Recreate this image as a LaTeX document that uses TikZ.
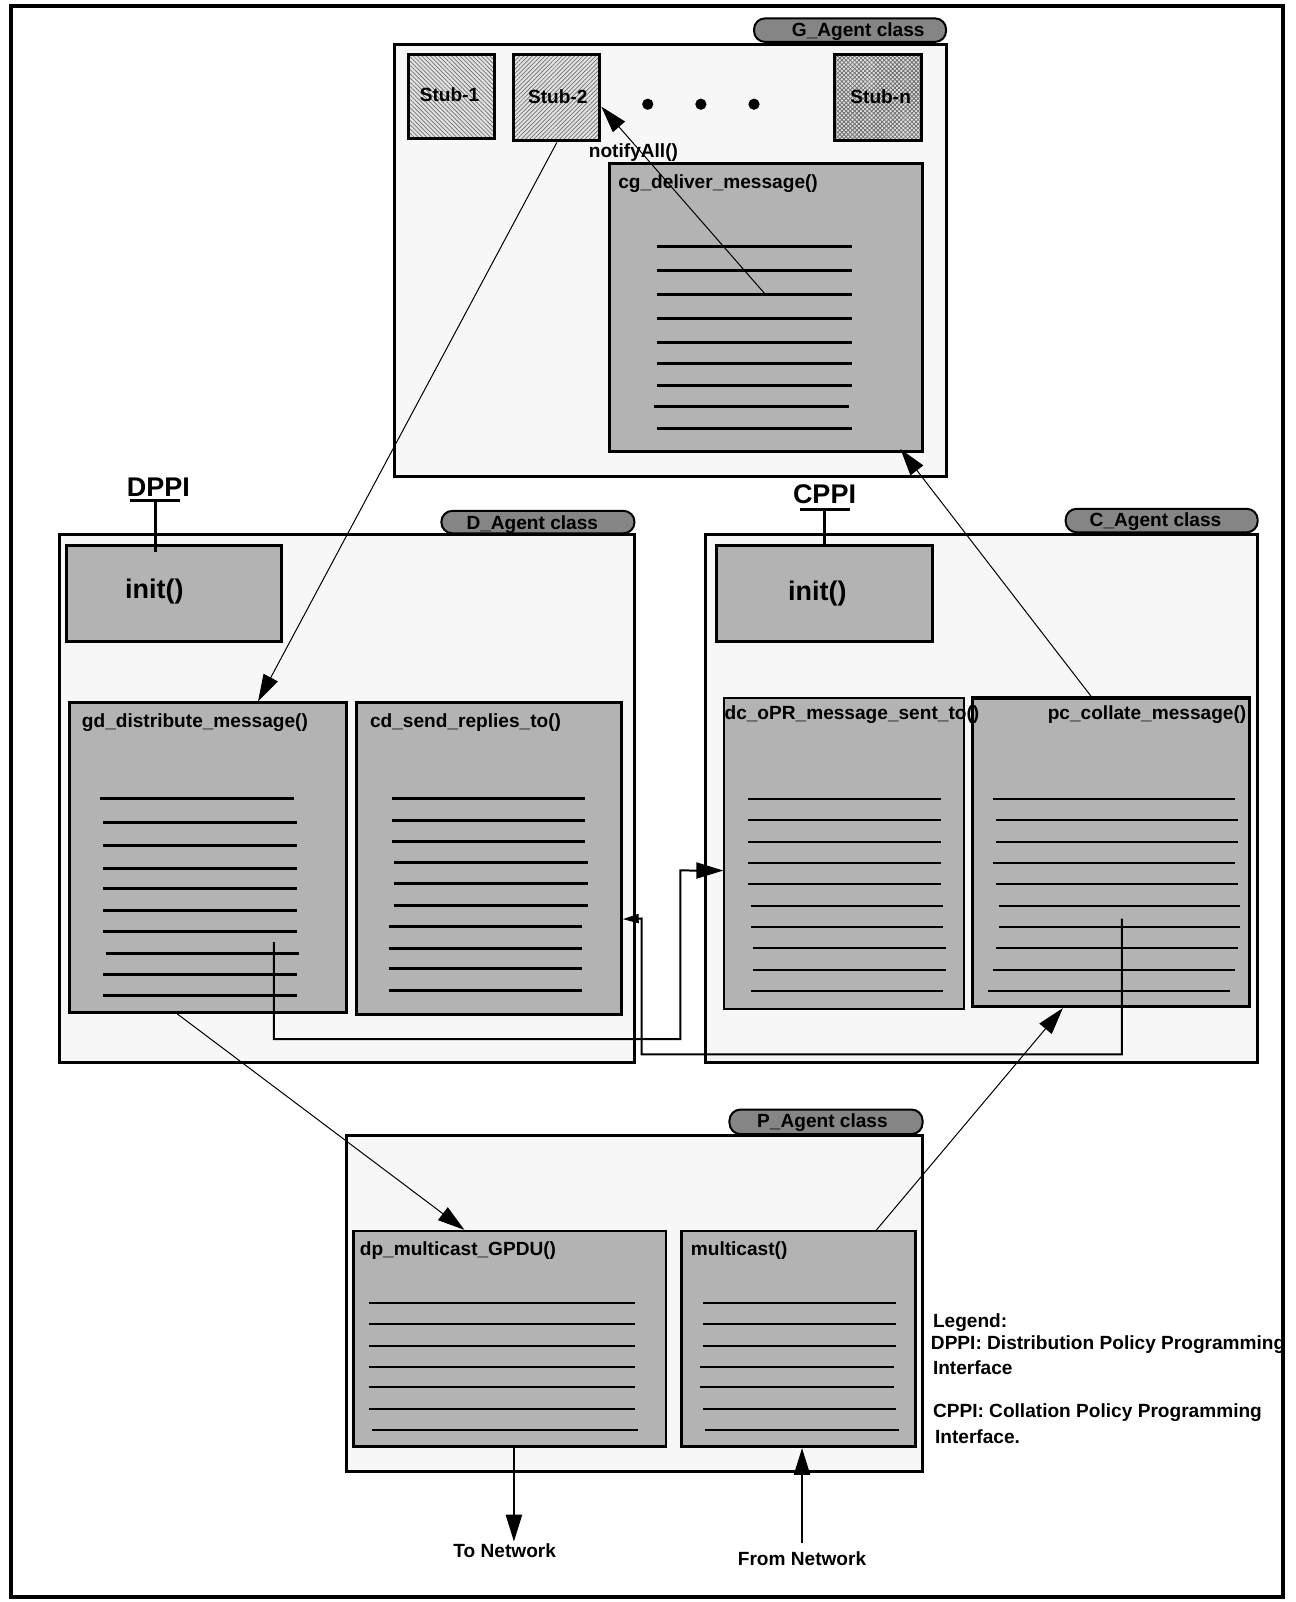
\documentclass[tikz,border=0pt]{standalone}
\usepackage{fontspec}
\setmainfont{Liberation Sans}
\usetikzlibrary{arrows.meta,patterns.meta,fit,calc}
\definecolor{classfill}{HTML}{F7F7F7}
\definecolor{methfill}{HTML}{B3B3B3}
\definecolor{tabfill}{HTML}{858585}
\definecolor{stubfill}{HTML}{E2E2E2}
\definecolor{hatchcol}{HTML}{6E6E6E}
\begin{document}
\begin{tikzpicture}[x=1.022pt, y=-1.022pt,
  lbl/.style={font=\bfseries\fontsize{19.1}{21}\selectfont, inner sep=0pt, text=black},
  bigl/.style={font=\bfseries\fontsize{27}{30}\selectfont, inner sep=0pt, text=black},
  classbox/.style={draw, line width=3pt, fill=classfill, inner sep=0pt},
  methbox/.style={draw, line width=3pt, fill=methfill, inner sep=0pt},
  thinmeth/.style={methbox, line width=2pt},
  tabbox/.style={draw, line width=2pt, fill=tabfill, rounded corners=11pt, inner sep=0pt},
  stubbox/.style={draw, line width=3pt, inner sep=0pt},
  codeline/.style={line width=3pt},
  thinline/.style={line width=2pt},
  conn/.style={line width=1pt, -{Triangle[length=27pt,width=16pt]}},
  route/.style={line width=2pt},
  routehead/.style={route, -{Triangle[length=27pt,width=16pt]}},
  smallhead/.style={route, -{Triangle[length=16pt,width=9pt]}},
  nethead/.style={line width=2.5pt, -{Triangle[length=27pt,width=16pt]}},
  stem/.style={line width=3pt}
]
% canvas
\fill[white] (0,0) rectangle (1268,1568);
\useasboundingbox (0,0) rectangle (1268,1568);

% ---------------- class tabs ----------------
\node[tabbox, fit={(738,18)(926,41)}] (gtab) {};
\node[tabbox, fit={(432,500)(621,522)}] (dtab) {};
\node[tabbox, fit={(1043,498)(1231,521)}] (ctab) {};
\node[tabbox, fit={(714,1086)(903,1110)}] (ptab) {};
\node[lbl] at (840,31) {G\_Agent class};
\node[lbl] at (521,513) {D\_Agent class};
\node[lbl] at (1131,511) {C\_Agent class};
\node[lbl] at (805,1099) {P\_Agent class};

% ---------------- class bodies ----------------
\node[classbox, fit={(386,44)(926,466)}] (G) {};
\node[classbox, fit={(58,523)(621,1040)}] (D) {};
\node[classbox, fit={(691,523)(1231,1040)}] (C) {};
\node[classbox, fit={(339,1111)(903,1440)}] (P) {};

% ---------------- G_Agent ----------------
\node[stubbox, fill=stubfill, fit={(400,53)(484,136)}] (stub1) {};
\fill[pattern={Lines[angle=-45,distance=3pt,line width=0.7pt]}, pattern color=hatchcol] (400,53) rectangle (484,136);
\node[stubbox, fit={(400,53)(484,136)}] {};
\node[stubbox, fill=stubfill, fit={(503,53)(587,138)}] (stub2) {};
\fill[pattern={Lines[angle=45,distance=3pt,line width=0.7pt]}, pattern color=hatchcol] (503,53) rectangle (587,138);
\node[stubbox, fit={(503,53)(587,138)}] {};
\node[stubbox, fill=stubfill, fit={(817,53)(902,138)}] (stubn) {};
\fill[pattern={Hatch[angle=45,distance=3pt,line width=0.8pt]}, pattern color=hatchcol] (817,53) rectangle (902,138);
\node[stubbox, fit={(817,53)(902,138)}] {};
\node[lbl] at (440,93) {Stub-1};
\node[lbl] at (546,95) {Stub-2};
\node[lbl] at (862,95) {Stub-n};
\foreach \x in {634,686,738} \fill (\x,102) circle (5.5);

\node[methbox, fit={(597,160)(903,442)}] (cg) {};
\foreach \a/\b/\y in {643/834/241.4, 643/834/264.5, 643/834/288, 643/834/311.4,
    643/834/335, 643/834/356.2, 643/834/377, 640/831/398, 643/834/419}
  \draw[codeline] (\a,\y) -- (\b,\y);
\node[lbl, anchor=west] at (605,180) {cg\_deliver\_message()};

% ---------------- D_Agent ----------------
\node[methbox, fit={(65,534)(276,628)}] (dinit) {};
\node[bigl] at (151,579) {init()};
\node[bigl] (dppi) at (155,477) {DPPI};
\coordinate (dstemtop) at (152,490);
\coordinate (dstembot) at (152,540);
\draw[stem] (127,490) -- (176,490);
\draw[stem] (dstemtop) -- (dstembot);

\node[methbox, fit={(68,688)(339,991)}] (gd) {};
\foreach \a/\b/\y in {97.5/288/781.5, 100.7/290.3/805, 100.7/290.3/828, 100.7/290.3/850,
    100.7/290.3/870, 100.7/290.3/891, 100.7/290.3/912, 103.6/293/933,
    100.7/290.3/953.5, 100.7/290.3/974.6}
  \draw[codeline] (\a,\y) -- (\b,\y);
\node[lbl, anchor=west] at (80,707) {gd\_distribute\_message()};

\node[methbox, fit={(349,688)(608,993)}] (cd) {};
\foreach \a/\b/\y in {383.5/572.7/781.5, 383.5/572.7/802.6, 383.5/572.7/823.5,
    385.6/576/844, 385.6/576/865, 385.6/576/886,
    380.6/570/906.5, 380.6/570/928, 380.6/570/948, 380.6/570/969}
  \draw[codeline] (\a,\y) -- (\b,\y);
\node[lbl, anchor=west] at (362,707) {cd\_send\_replies\_to()};

% ---------------- C_Agent ----------------
\node[methbox, fit={(701,534)(913,628)}] (cinit) {};
\node[bigl] at (800,581) {init()};
\node[bigl] (cppi) at (807,484) {CPPI};
\coordinate (cstemtop) at (807,499);
\draw[stem] (783,499) -- (832,499);
\draw[stem] (cstemtop) -- (cstemtop |- cinit.north);

\node[thinmeth, fit={(709,683)(944,988)}] (dc) {};
\foreach \a/\b/\y in {731.8/921.5/782, 731.8/921.5/802.5, 731.8/921.5/824,
    731.8/921.5/844.6, 731.8/921.5/865, 734.6/923/886.6, 734.6/923/907,
    736.8/926/927.6, 736.8/926/949, 734.6/923/970}
  \draw[thinline] (\a,\y) -- (\b,\y);

\node[methbox, line width=3.5pt, fit={(952,683)(1223,985)}] (pc) {};
\foreach \a/\b/\y in {971.6/1208.6/782, 974.5/1211.5/802.5, 974.5/1211.5/824,
    971.6/1208.6/844.6, 974.5/1211.5/865, 977.3/1213.3/886.6, 977.3/1213.3/907,
    974.5/1211.5/927.6, 971.6/1208.6/949, 966.6/1203.7/970}
  \draw[thinline] (\a,\y) -- (\b,\y);
\node[lbl, anchor=west] at (709,699) {dc\_oPR\_message\_sent\_to()};
\node[lbl, anchor=east] at (1220,699) {pc\_collate\_message()};

% ---------------- P_Agent ----------------
\node[methbox, line width=2.5pt, fit={(346,1205)(652,1416)}] (dp) {};
\foreach \a/\b/\y in {360.9/621.7/1275, 360.9/621.7/1296, 360.9/621.7/1317,
    360.9/621.7/1337.5, 360.9/621.7/1358, 360.9/621.7/1379, 364.5/624.6/1400}
  \draw[thinline] (\a,\y) -- (\b,\y);
\node[lbl, anchor=west] at (352,1224) {dp\_multicast\_GPDU()};

\node[methbox, line width=2.5pt, fit={(667,1205)(896,1416)}] (mc) {};
\foreach \a/\b/\y in {688/877/1275, 688/877/1296, 688/877/1317,
    685.1/875.3/1337.5, 685.1/875.3/1358, 688/877/1379, 690.2/880/1400}
  \draw[thinline] (\a,\y) -- (\b,\y);
\node[lbl, anchor=west] at (676,1224) {multicast()};

% ---------------- connectors ----------------
\coordinate (cgpt) at (749,288);
\coordinate (gdpt) at (268,922);
\coordinate (pcpt) at (1098,899);

\draw[conn] (stub2.south) -- ($(gd.north west)!0.679!(gd.north east)$);
\draw[conn] (cgpt) -- ($(stub2.north east)!0.6!(stub2.south east)$);
\node[lbl] at (620,149) {notifyAll()};
\draw[conn] ($(pc.north west)!0.428!(pc.north east)$) -- ($(cg.south west)!0.925!(cg.south east)+(0,-4)$);
\draw[conn] ($(gd.south west)!0.391!(gd.south east)$) -- ($(dp.north west)!0.356!(dp.north east)$);
\draw[conn] ($(mc.north west)!0.83!(mc.north east)$) -- ($(pc.south west)!0.328!(pc.south east)$);

\draw[routehead] (gdpt) -- (268,1017) -- (666,1017) -- (666,852)
  -- ($(dc.north west)!0.554!(dc.south west)$);
\draw[smallhead] (pcpt) -- (1098,1032) -- (628,1032) -- (628,899)
  -- ($(cd.north east)!0.692!(cd.south east)$);

% ---------------- network ends ----------------
\node[lbl] (tonet) at (494,1518) {To Network};
\node[lbl] (fromnet) at (785,1526) {From Network};
\coordinate (dpout) at ($(dp.south west)!0.513!(dp.south east)$);
\coordinate (netin) at ($(fromnet.north)+(0,-9)$);
\draw[nethead] (dpout) -- ($(dpout |- tonet.north)+(0,-2)$);
\draw[nethead] (netin) -- (netin |- mc.south);

% ---------------- legend ----------------
\node[lbl, anchor=west] at (913,1295) {Legend:};
\node[lbl, anchor=west] at (911,1316) {DPPI: Distribution Policy Programming};
\node[lbl, anchor=west] at (913,1339) {Interface};
\node[lbl, anchor=west] at (913,1383) {CPPI: Collation Policy Programming};
\node[lbl, anchor=west] at (915,1406) {Interface.};

% ---------------- page frame ----------------
\draw[line width=4pt] (11,6) rectangle (1256,1563);
\end{tikzpicture}
\end{document}
